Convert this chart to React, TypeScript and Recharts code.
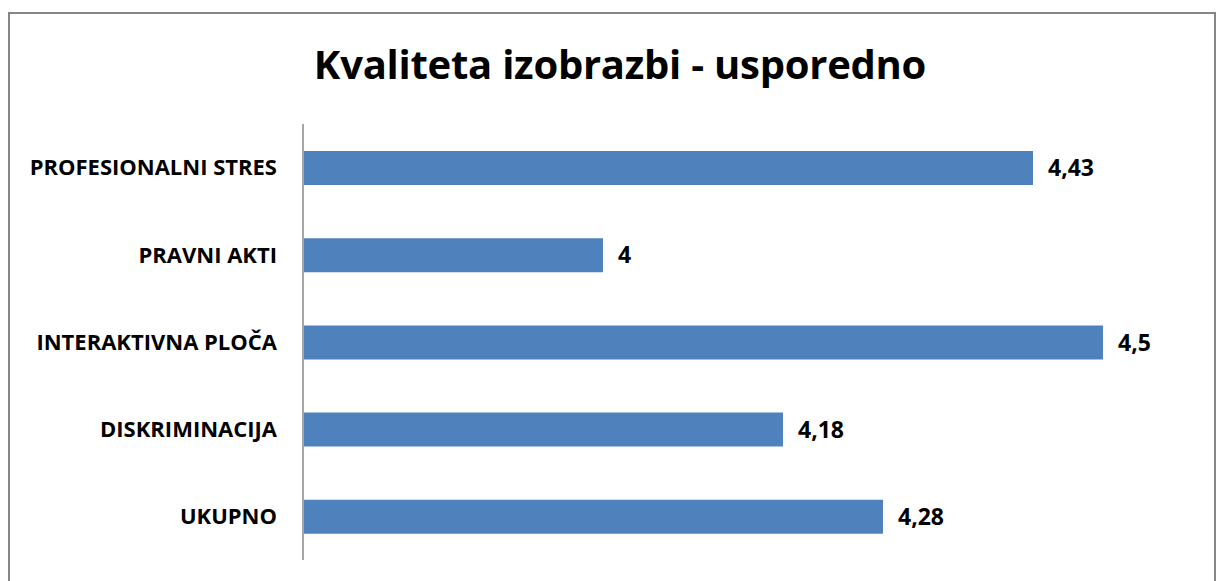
import React from 'react';
import { BarChart, Bar, XAxis, YAxis, LabelList } from 'recharts';

const categories = ['PROFESIONALNI STRES', 'PRAVNI AKTI', 'INTERAKTIVNA PLOČA', 'DISKRIMINACIJA', 'UKUPNO'];
const values = [4.43, 4, 4.5, 4.18, 4.28];
const title = 'Kvaliteta izobrazbi - usporedno';

const data = categories.map((name, i) => ({ name, value: values[i] }));

const FONT = '"Open Sans", Lato, sans-serif';

export default function App() {
  return (
    <div style={{ position: 'absolute', left: 0, top: 0, width: 1219, height: 581, overflow: 'hidden', background: '#fff' }}>
      <div style={{ position: 'absolute', left: 8, top: 12, width: 1208, height: 600, border: '2px solid #868686', boxSizing: 'border-box' }} />
      <div style={{ position: 'absolute', left: 0, top: 36, width: 1240, textAlign: 'center', fontFamily: FONT, fontWeight: 700, fontSize: 40, lineHeight: 'normal', color: '#000', letterSpacing: -0.25 }}>
        {title}
      </div>
      <div style={{ position: 'absolute', left: 0, top: 0 }}>
        <BarChart
          width={1219}
          height={581}
          data={data}
          layout="vertical"
          margin={{ top: 124, right: 16, bottom: 21, left: 0 }}
        >
          <XAxis type="number" domain={[3.7, 4.6]} hide />
          <YAxis
            type="category"
            dataKey="name"
            width={303}
            axisLine={{ stroke: '#a6a6a6', strokeWidth: 2 }}
            tickLine={false}
            tickSize={0}
            tickMargin={26}
            tick={{ fill: '#000', fontSize: 22, fontWeight: 700, fontFamily: FONT }}
          />
          <Bar dataKey="value" fill="#4F81BD" barSize={34} isAnimationActive={false}>
            <LabelList
              dataKey="value"
              position="right"
              offset={15}
              formatter={(v: number) => String(v).replace('.', ',')}
              style={{ fill: '#000', fontSize: 23, fontWeight: 700, fontFamily: FONT }}
            />
          </Bar>
        </BarChart>
      </div>
    </div>
  );
}
